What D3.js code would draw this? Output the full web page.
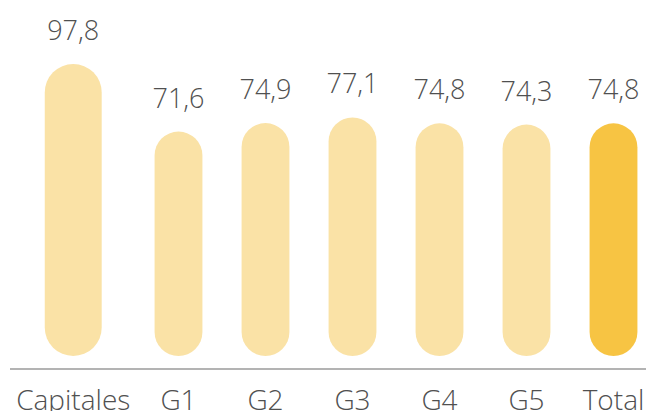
<!DOCTYPE html>
<html>
<head>
<meta charset="utf-8">
<script src="https://cdn.jsdelivr.net/npm/d3@7"></script>
<style>
  body { margin: 0; background: #fff; }
  text { font-family: "Open Sans", Lato, sans-serif; font-weight: 300; fill: #505050; }
</style>
</head>
<body>
<div id="chart"></div>
<script>
// data
const categories = ["Capitales", "G1", "G2", "G3", "G4", "G5", "Total"];
const values = [97.8, 71.6, 74.9, 77.1, 74.8, 74.3, 74.8];
const valueLabels = ["97,8", "71,6", "74,9", "77,1", "74,8", "74,3", "74,8"];

const width = 646, height = 411;
const baseY = 356, axisY = 369;

const svg = d3.select("#chart").append("svg")
  .attr("width", width)
  .attr("height", height);

// G groups on a band scale, Capitales sits a bit further left and is wider
const x = d3.scaleBand()
  .domain(categories.slice(1))
  .range([135, 657])
  .paddingInner(0.45)
  .paddingOuter(0.225);

const bw = x.bandwidth();
const step = x.step();

function center(c) {
  if (c === "Capitales") return x("G1") + bw / 2 - 1.21 * step;
  return x(c) + bw / 2;
}
function barW(c) {
  return c === "Capitales" ? bw * 1.19 : bw;
}

// the pills start below the zero line, like in the original
const y = d3.scaleLinear()
  .domain([-15.4, 97.8])
  .range([baseY, 64]);

const data = categories.map((c, i) => ({cat: c, v: values[i], label: valueLabels[i]}));

// bars (pills)
svg.selectAll("rect.bar")
  .data(data)
  .enter()
  .append("rect")
  .attr("class", "bar")
  .attr("x", d => center(d.cat) - barW(d.cat) / 2)
  .attr("y", d => y(d.v))
  .attr("width", d => barW(d.cat))
  .attr("height", d => baseY - y(d.v))
  .attr("rx", d => barW(d.cat) / 2)
  .attr("ry", d => barW(d.cat) / 2)
  .attr("fill", d => d.cat === "Total" ? "#f7c443" : "#fae2a6");

// value labels
svg.selectAll("text.val")
  .data(data)
  .enter()
  .append("text")
  .attr("class", "val")
  .attr("x", d => center(d.cat))
  .attr("y", d => y(d.v) - 24)
  .attr("text-anchor", "middle")
  .style("font-size", "27px")
  .text(d => d.label);

// baseline
svg.append("line")
  .attr("x1", 10)
  .attr("x2", width)
  .attr("y1", axisY)
  .attr("y2", axisY)
  .attr("stroke", "#9a9a9a")
  .attr("stroke-width", 1.5);

// category labels
svg.selectAll("text.cat")
  .data(data)
  .enter()
  .append("text")
  .attr("class", "cat")
  .attr("x", d => center(d.cat))
  .attr("y", 410)
  .attr("text-anchor", "middle")
  .style("font-size", "28px")
  .text(d => d.cat);
</script>
</body>
</html>
